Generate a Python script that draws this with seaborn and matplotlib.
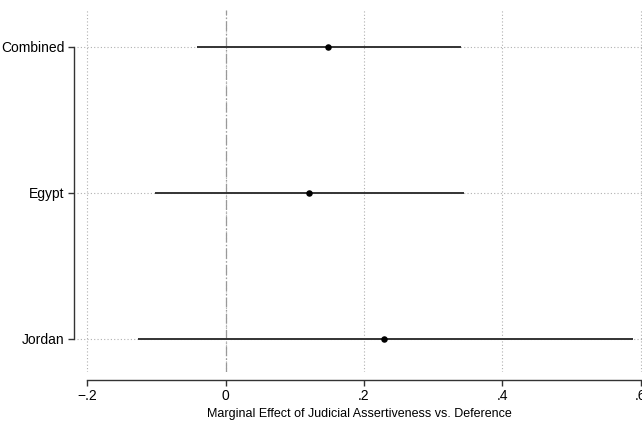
import matplotlib
matplotlib.use("Agg")
import matplotlib.pyplot as plt
import seaborn as sns
import pandas as pd

labels = ["Combined", "Egypt", "Jordan"]
estimates = [0.1485, 0.1213, 0.2296]
ci_low = [-0.041, -0.102, -0.127]
ci_high = [0.340, 0.345, 0.589]
xticks = [-0.2, 0.0, 0.2, 0.4, 0.6]
xtick_labels = ["\u2212.2", "0", ".2", ".4", ".6"]
xlabel = "Marginal Effect of Judicial Assertiveness vs. Deference"

sns.set_style("white")
plt.rcParams["font.family"] = ["Liberation Sans", "DejaVu Sans"]
plt.rcParams["text.color"] = "black"
plt.rcParams["axes.labelcolor"] = "black"
plt.rcParams["xtick.color"] = "black"
plt.rcParams["ytick.color"] = "black"

df = pd.DataFrame({"label": labels, "est": estimates, "lo": ci_low, "hi": ci_high})

fig = plt.figure(figsize=(6.42, 4.22), dpi=100)
ax = fig.add_axes([77 / 642, 1 - 372 / 422, 1 - 77 / 642, (372 - 10) / 422])

# grid
for xv in xticks:
    ax.axvline(xv, color="#b0b0b0", lw=0.8, ls=(0, (1, 2)), zorder=0)
for i in range(len(labels)):
    ax.axhline(i, color="#b0b0b0", lw=0.8, ls=(0, (1, 2)), zorder=0)
ax.axvline(0, color="#999999", lw=0.9, ls=(0, (8, 2, 1, 2)), zorder=1)

ax.hlines(df["label"], df["lo"], df["hi"], color="#333333", lw=1.4, zorder=2)
sns.scatterplot(data=df, x="est", y="label", ax=ax, color="black", s=22,
                edgecolor="black", linewidth=0, zorder=3)

ax.set_xlim(-0.2147, 0.602)
ax.set_ylim(2.226, -0.253)
ax.set_xticks(xticks)
ax.set_xticklabels(xtick_labels, fontsize=9)
ax.set_yticks(range(len(labels)))
ax.set_yticklabels(labels, fontsize=9)
ax.set_xlabel(xlabel, fontsize=9, labelpad=4)
ax.set_ylabel("")

for s in ["top", "right"]:
    ax.spines[s].set_visible(False)
ax.spines["left"].set_position(("outward", 2))
ax.spines["bottom"].set_position(("outward", 6))
ax.spines["left"].set_bounds(0, 2)
ax.spines["bottom"].set_bounds(-0.2, 0.6)
for s in ["left", "bottom"]:
    ax.spines[s].set_color("#333333")
    ax.spines[s].set_linewidth(1.0)
ax.tick_params(axis="both", which="major", length=4.5, width=1.0, color="#333333",
               direction="out", bottom=True, left=True)
ax.tick_params(axis="x", pad=1.5)
ax.tick_params(axis="y", pad=2.5)

fig.savefig("out.png", dpi=100)
